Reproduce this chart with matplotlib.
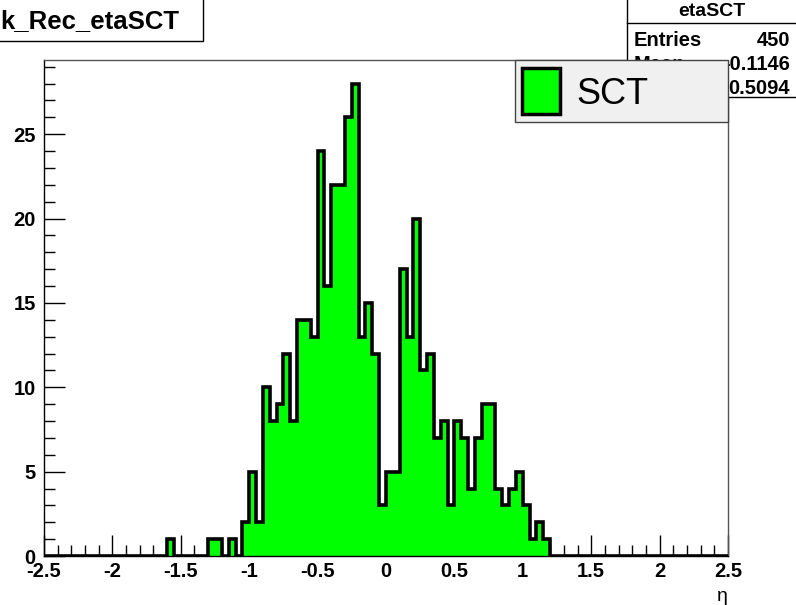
import numpy as np
import matplotlib
matplotlib.use("Agg")
import matplotlib.pyplot as plt
from matplotlib.patches import Rectangle

plt.rcParams['font.family'] = ['Liberation Sans', 'DejaVu Sans']

# 100 bins of 0.05 over [-2.5, 2.5]; counts (sum = 450)
edges = np.linspace(-2.5, 2.5, 101)
nonzero_bins = [18, 24, 25, 27, 29, 30, 31, 32, 33, 34, 35, 36, 37, 38, 39, 40,
                41, 42, 43, 44, 45, 46, 47, 48, 49, 50, 51, 52, 53, 54, 55, 56,
                57, 58, 59, 60, 61, 62, 63, 64, 65, 66, 67, 68, 69, 70, 71, 72, 73]
nonzero_counts = [1, 1, 1, 1, 2, 5, 2, 10, 8, 9, 12, 8, 14, 14, 13, 24,
                  16, 22, 22, 26, 28, 13, 15, 12, 3, 5, 5, 17, 13, 20, 11, 12,
                  7, 8, 3, 8, 7, 4, 7, 9, 9, 4, 3, 4, 5, 3, 1, 2, 1]
counts = np.zeros(100)
counts[nonzero_bins] = nonzero_counts

hist_name = "etaSCT"
title_text = "k_Rec_etaSCT"
stat_labels = ["Entries", "Mean", "RMS"]
stat_values = ["450", "-0.1146", "0.5094"]
legend_label = "SCT"

W, H = 796, 605
fig = plt.figure(figsize=(W / 100, H / 100), dpi=100)

def fx(px):
    return px / W

def fy(py):
    return 1 - py / H

ax = fig.add_axes([fx(44), fy(556), fx(728) - fx(44), fy(60) - fy(556)])
ax.stairs(counts, edges, fill=True, color="#00ff00", zorder=2)
ax.stairs(counts, edges, color="black", linewidth=2.6, zorder=3)
ax.set_xlim(-2.5, 2.5)
ax.set_ylim(0, counts.max() * 1.05)

ax.set_xticks(np.arange(-2.5, 2.51, 0.5))
ax.set_xticklabels(["-2.5", "-2", "-1.5", "-1", "-0.5", "0", "0.5", "1", "1.5", "2", "2.5"])
ax.set_xticks(np.arange(-2.5, 2.51, 0.1), minor=True)
ax.set_yticks([0, 5, 10, 15, 20, 25])
ax.set_yticks(np.arange(0, 30, 1), minor=True)
ax.tick_params(which="major", direction="in", length=15, width=1, labelsize=14.5)
ax.tick_params(which="minor", direction="in", length=8, width=1)
ax.tick_params(axis="x", pad=4)
ax.tick_params(axis="y", pad=6)
for lab in ax.get_xticklabels() + ax.get_yticklabels():
    lab.set_fontweight("bold")
for s in ax.spines.values():
    s.set_linewidth(1)
for s in ["top", "right"]:
    ax.spines[s].set_color("#555555")
ax.set_xlabel("η", fontsize=14)
ax.xaxis.set_label_coords(1.0, -0.065)
ax.xaxis.label.set_horizontalalignment("right")

# title box
fig.patches.append(Rectangle((fx(-2), fy(41)), fx(205), fy(0) - fy(41) + 0.01,
                             transform=fig.transFigure, facecolor="white",
                             edgecolor="black", linewidth=1, zorder=5))
fig.text(fx(0), fy(21), title_text, fontsize=18.5, fontweight="bold",
         va="center", ha="left", zorder=6)

# stats box
fig.patches.append(Rectangle((fx(627), fy(97)), fx(200), fy(0) - fy(97) + 0.01,
                             transform=fig.transFigure, facecolor="white",
                             edgecolor="black", linewidth=1, zorder=5))
fig.add_artist(plt.Line2D([fx(627), 1], [fy(23), fy(23)], color="black",
                          linewidth=1, transform=fig.transFigure, zorder=6))
fig.text(fx(712), fy(12), hist_name, fontsize=14, fontweight="bold",
         ha="center", va="center", zorder=6)
for k, (lab, val) in enumerate(zip(stat_labels, stat_values)):
    y = fy(40 + 24 * k)
    fig.text(fx(634), y, lab, fontsize=14.5, fontweight="bold", ha="left", va="center", zorder=6)
    fig.text(fx(790), y, val, fontsize=14.5, fontweight="bold", ha="right", va="center", zorder=6)

# legend box (drawn over the stats box)
fig.patches.append(Rectangle((fx(515), fy(122)), fx(728) - fx(515), fy(60) - fy(122),
                             transform=fig.transFigure, facecolor="#f0f0f0",
                             edgecolor="#444444", linewidth=1, zorder=7))
fig.patches.append(Rectangle((fx(522), fy(114)), fx(560) - fx(522), fy(68) - fy(114),
                             transform=fig.transFigure, facecolor="#00ff00",
                             edgecolor="black", linewidth=2.5, zorder=8))
fig.text(fx(576), fy(95), legend_label, fontsize=26, ha="left", va="center", zorder=8)

fig.savefig("out.png", dpi=100)
